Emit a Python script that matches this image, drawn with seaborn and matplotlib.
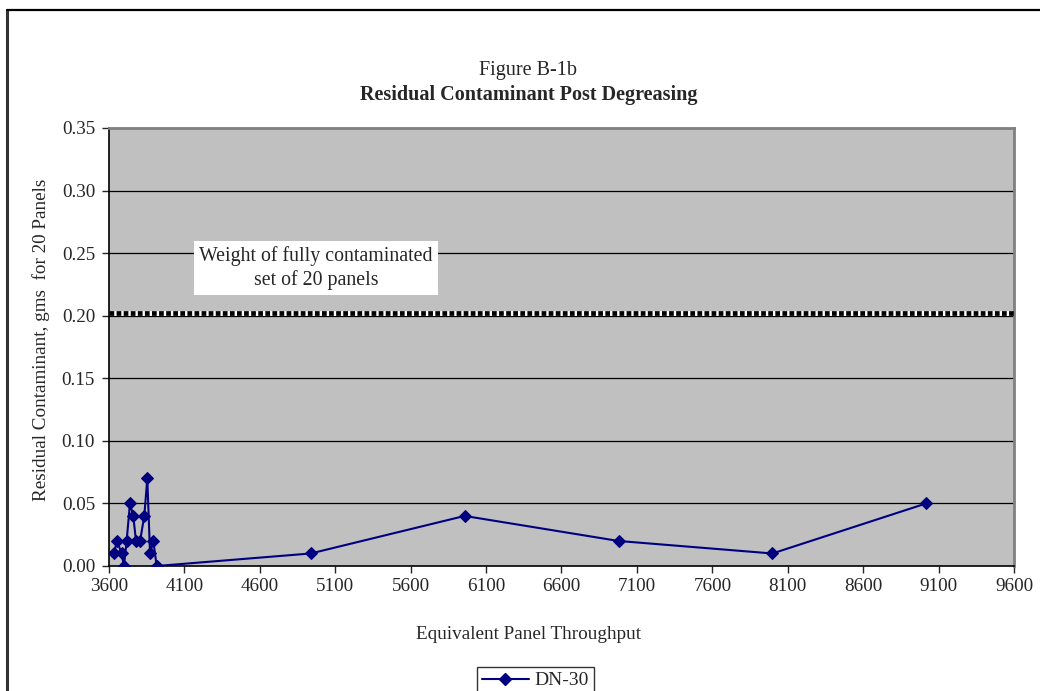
import pandas as pd
import matplotlib.pyplot as plt
import seaborn as sns
from matplotlib.lines import Line2D

# Data
throughput = [3633, 3653, 3684, 3699, 3717, 3739, 3761, 3779, 3806, 3834, 3854, 3872, 3894, 3916,
              4937, 5958, 6978, 7998, 9018]
residual = [0.01, 0.02, 0.01, 0.00, 0.02, 0.05, 0.04, 0.02, 0.02, 0.04, 0.07, 0.01, 0.02, 0.00,
            0.01, 0.04, 0.02, 0.01, 0.05]
series_name = 'DN-30'
full_weight = 0.202
x_ticks = list(range(3600, 9601, 500))
y_ticks = [0.00, 0.05, 0.10, 0.15, 0.20, 0.25, 0.30, 0.35]

data = pd.DataFrame({'Throughput': throughput, 'Residual': residual, 'Series': series_name})

sns.set_style('white')
plt.rcParams['font.family'] = ['Liberation Serif', 'DejaVu Serif']

fig = plt.figure(figsize=(10.4, 6.91), dpi=100)
ax = fig.add_axes([0.1048, 0.1809, 0.8702, 0.6339])
ax.set_facecolor('#C0C0C0')

# Horizontal gridlines
for yv in y_ticks[1:]:
    ax.axhline(yv, color='black', lw=0.9, zorder=1)

# Weight of fully contaminated set line (dotted)
ax.axhline(full_weight, color='white', lw=3.4, zorder=2)
ax.axhline(full_weight, color='black', lw=3.4, dashes=(1.0, 0.5), zorder=3)

sns.lineplot(data=data, x='Throughput', y='Residual', hue='Series', palette=['#000080'],
             sort=False, marker='D', markersize=6.5, markeredgecolor='#000080',
             lw=1.5, ax=ax, zorder=4, estimator=None, legend=False)

ax.text(4972, 0.238, 'Weight of fully contaminated\nset of 20 panels', ha='center', va='center',
        fontsize=14.3, linespacing=1.25,
        bbox=dict(facecolor='white', edgecolor='none', pad=4), zorder=5)

ax.set_xlim(3600, 9600)
ax.set_ylim(0, 0.35)
ax.set_xticks(x_ticks)
ax.set_yticks(y_ticks)
ax.set_yticklabels([f'{v:.2f}' for v in y_ticks])
ax.tick_params(axis='both', direction='out', length=5, width=1, labelsize=13.8,
               bottom=True, left=True)
ax.tick_params(axis='y', pad=5)
ax.tick_params(axis='x', pad=4)

for side in ['left', 'bottom']:
    ax.spines[side].set_color('black')
    ax.spines[side].set_linewidth(1.2)
for side in ['top', 'right']:
    ax.spines[side].set_color('#808080')
    ax.spines[side].set_linewidth(2)

ax.set_xlabel('Equivalent Panel Throughput', fontsize=13.8)
ax.set_ylabel('Residual Contaminant, gms  for 20 Panels', fontsize=13.8)
ax.xaxis.set_label_coords(0.463, -0.137)
ax.yaxis.set_label_coords(-0.065, 0.516)

fig.text(0.508, 0.898, 'Figure B-1b', ha='center', va='center', fontsize=14.5)
fig.text(0.508, 0.863, 'Residual Contaminant Post Degreasing', ha='center', va='center',
         fontsize=14.5, fontweight='bold')

# Legend below the plot
handle = Line2D([], [], color='#000080', marker='D', markersize=6, lw=1.5)
leg = fig.legend([handle], [series_name], loc='upper center', bbox_to_anchor=(0.515, 0.0347),
                 borderaxespad=0, frameon=True, fancybox=False, fontsize=14, handlelength=2.4,
                 borderpad=0.25, handletextpad=0.3)
leg.get_frame().set_edgecolor('black')
leg.get_frame().set_linewidth(1)

# Outer chart border (left and top)
fig.add_artist(Line2D([0.0067, 0.0067], [0.0, 0.9855], color='#333333', lw=2.2,
                      transform=fig.transFigure))
fig.add_artist(Line2D([0.0067, 1.0], [0.9855, 0.9855], color='black', lw=1.6,
                      transform=fig.transFigure))

plt.savefig('out.png', dpi=100)
plt.close()
